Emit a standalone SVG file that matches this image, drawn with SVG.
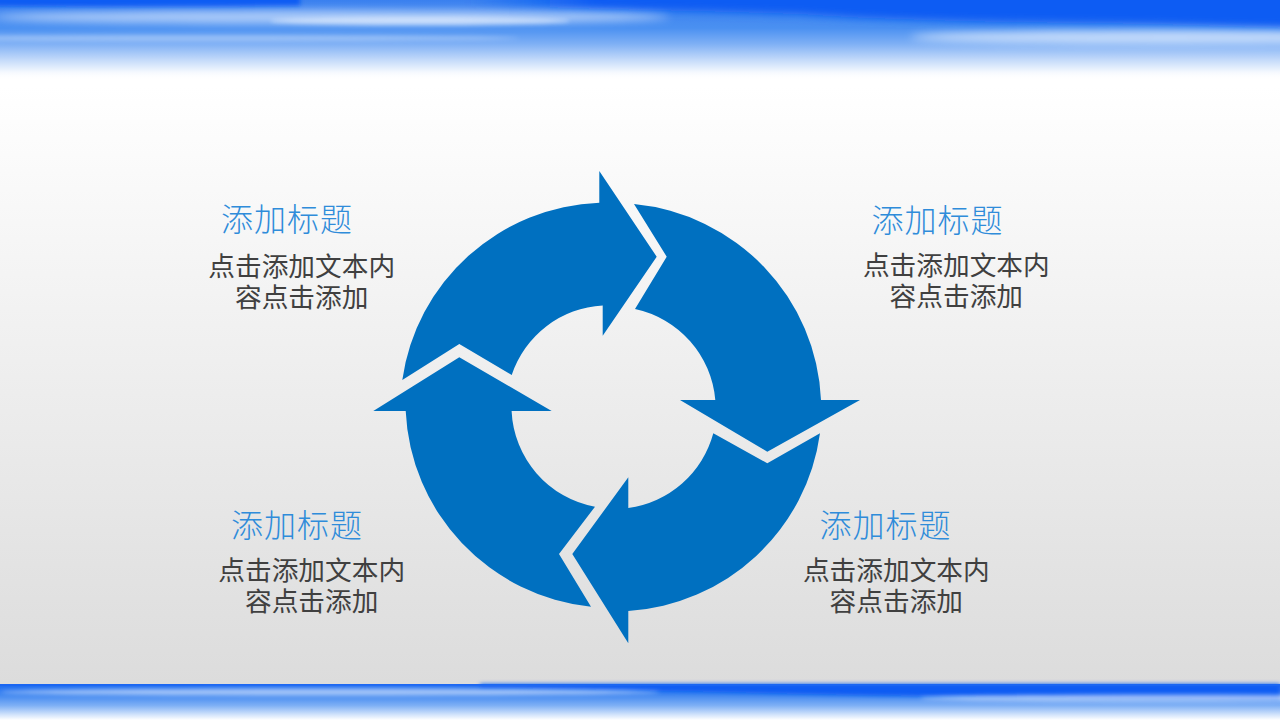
<svg xmlns="http://www.w3.org/2000/svg" width="1280" height="720" viewBox="0 0 1280 720">
  <defs>
    <style>
      .arrow { fill: #0070C0; }
      .title { font-family: 'Liberation Sans', 'Noto Sans CJK SC', sans-serif; font-size: 32px; font-weight: 300; fill: #2F8CDA; letter-spacing: 1px; }
      .body { font-family: 'Liberation Sans', 'Noto Sans CJK SC', sans-serif; font-size: 26.7px; font-weight: 400; fill: #404040; text-anchor: middle; }
    </style>
    <linearGradient id="bg" x1="0" y1="0" x2="0" y2="720" gradientUnits="userSpaceOnUse">
      <stop offset="0" stop-color="#ffffff"/>
      <stop offset="0.12" stop-color="#ffffff"/>
      <stop offset="0.95" stop-color="#dcdcdc"/>
      <stop offset="1" stop-color="#dcdcdc"/>
    </linearGradient>
    <linearGradient id="topBand" x1="0" y1="0" x2="0" y2="80" gradientUnits="userSpaceOnUse">
      <stop offset="0" stop-color="#3a80ef"/>
      <stop offset="0.35" stop-color="#4a90f1"/>
      <stop offset="0.55" stop-color="#7fb0f5"/>
      <stop offset="0.75" stop-color="#c4dafa"/>
      <stop offset="0.9" stop-color="#f4f8fe"/>
      <stop offset="1" stop-color="#ffffff" stop-opacity="0"/>
    </linearGradient>
    <linearGradient id="botBand" x1="0" y1="684" x2="0" y2="720" gradientUnits="userSpaceOnUse">
      <stop offset="0" stop-color="#1868f0"/>
      <stop offset="0.3" stop-color="#3f86f0"/>
      <stop offset="0.6" stop-color="#7fb0f5"/>
      <stop offset="0.85" stop-color="#d2e3fb"/>
      <stop offset="1" stop-color="#ffffff"/>
    </linearGradient>
    <linearGradient id="darkFade" x1="0" y1="0" x2="1" y2="0">
      <stop offset="0" stop-color="#0a5cf3" stop-opacity="0"/>
      <stop offset="0.15" stop-color="#0a5cf3" stop-opacity="1"/>
      <stop offset="1" stop-color="#0a5cf3" stop-opacity="1"/>
    </linearGradient>
    <filter id="blur4" x="-10%" y="-100%" width="120%" height="300%">
      <feGaussianBlur stdDeviation="4"/>
    </filter>
    <filter id="blur2" x="-10%" y="-100%" width="120%" height="300%">
      <feGaussianBlur stdDeviation="2"/>
    </filter>
  </defs>

  <rect x="0" y="0" width="1280" height="720" fill="url(#bg)"/>

  <g id="top-band">
    <rect x="0" y="0" width="1280" height="80" fill="url(#topBand)"/>
    <path d="M470 -10 L1290 -10 L1290 28 L1150 24 Q900 22 800 14 Q650 10 470 6 Z" fill="url(#darkFade)" filter="url(#blur4)"/>
    <path d="M-10 -10 L300 -10 L300 6 Q150 8 -10 6 Z" fill="#0a5cf3" filter="url(#blur2)"/>
    <ellipse cx="330" cy="17" rx="340" ry="7" fill="#ffffff" opacity="0.55" filter="url(#blur4)"/>
    <ellipse cx="420" cy="21" rx="150" ry="4" fill="#ffffff" opacity="0.5" filter="url(#blur2)"/>
    <ellipse cx="1170" cy="37" rx="260" ry="7" fill="#ffffff" opacity="0.6" filter="url(#blur4)"/>
    <ellipse cx="200" cy="38" rx="320" ry="3" fill="#ffffff" opacity="0.3" filter="url(#blur2)"/>
  </g>

  <g id="bottom-band">
    <rect x="0" y="684" width="1280" height="36" fill="url(#botBand)"/>
    <path d="M480 684 L1280 684 L1280 699 Q1000 698 800 694 Q650 690 480 688 Z" fill="#0a5cf3" filter="url(#blur2)"/>
    <rect x="0" y="684" width="1280" height="2" fill="#1a66f2"/>
    <ellipse cx="330" cy="692" rx="330" ry="3.5" fill="#ffffff" opacity="0.55" filter="url(#blur2)"/>
    <ellipse cx="1170" cy="698" rx="250" ry="3.5" fill="#ffffff" opacity="0.55" filter="url(#blur2)"/>
  </g>

  <g id="connectors">
    <g id="arrow-top">
      <path class="arrow" d="M402.3 380 A207 206 0 0 1 599.3 202.7 L599.3 171 L656.7 256.7 L602.7 335.7 L602.7 305.4 A102 102 0 0 0 511.7 375 L459.3 344 Z"/>
    </g>
    <g id="arrow-right">
      <path class="arrow" d="M634 204 A207 206 0 0 1 821 400 L860 400 L767.3 451.7 L680 400 L715.3 400 A102 102 0 0 0 635 309 L666.7 256.7 Z"/>
    </g>
    <g id="arrow-bottom">
      <path class="arrow" d="M820 433.3 A207 206 0 0 1 628.3 611 L628.3 643.3 L572.3 554 L628.3 477.3 L628.3 507.9 A102 102 0 0 0 713.3 433.3 L767.3 463.3 Z"/>
    </g>
    <g id="arrow-left">
      <path class="arrow" d="M591 606.7 A207 206 0 0 1 405.7 411 L373.3 411 L459.3 357.3 L551.7 411 L511.6 411 A102 102 0 0 0 595 506.7 L559 554 Z"/>
    </g>
  </g>

  <g id="node-top-left">
    <text class="title" x="221" y="231">添加标题</text>
    <text class="body" x="301.7" y="276">点击添加文本内</text>
    <text class="body" x="301.7" y="306.5">容点击添加</text>
  </g>
  <g id="node-top-right">
    <text class="title" x="871.5" y="232">添加标题</text>
    <text class="body" x="956.3" y="275">点击添加文本内</text>
    <text class="body" x="956.3" y="305.5">容点击添加</text>
  </g>
  <g id="node-bottom-left">
    <text class="title" x="231" y="537">添加标题</text>
    <text class="body" x="311.7" y="580">点击添加文本内</text>
    <text class="body" x="311.7" y="610.5">容点击添加</text>
  </g>
  <g id="node-bottom-right">
    <text class="title" x="819.5" y="537">添加标题</text>
    <text class="body" x="896.3" y="580">点击添加文本内</text>
    <text class="body" x="896.3" y="610.5">容点击添加</text>
  </g>
</svg>
